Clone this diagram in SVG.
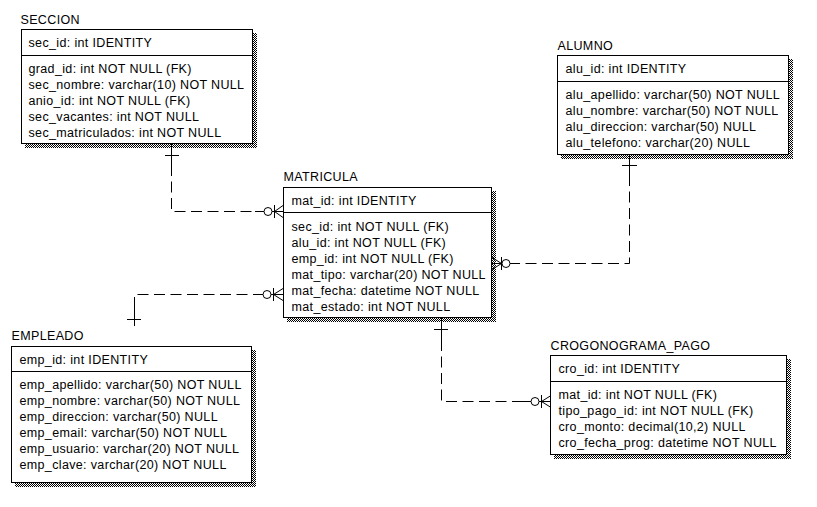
<svg xmlns="http://www.w3.org/2000/svg" width="817" height="507" viewBox="0 0 817 507">
<defs>
<pattern id="dither" width="2" height="2" patternUnits="userSpaceOnUse">
<rect width="2" height="2" fill="#fff"/>
<rect width="1" height="1" fill="#000"/>
<rect x="1" y="1" width="1" height="1" fill="#000"/>
</pattern>
<style>
text{font-family:"Liberation Sans",Arial,sans-serif;font-size:12.5px;letter-spacing:0.35px;fill:#000}
.box{fill:#fff;stroke:#000;stroke-width:1}
.sh{fill:url(#dither)}
.div{stroke:#000;stroke-width:1}
.dash{fill:none;stroke:#000;stroke-width:1;stroke-dasharray:11 5.5}
.sol{fill:none;stroke:#000;stroke-width:1}
.circ{fill:#fff;stroke:#000;stroke-width:1}
</style>
</defs>
<rect width="817" height="507" fill="#fff"/>

<g id="seccion">
<rect class="sh" x="25" y="33" width="232" height="115"/>
<rect class="box" x="21.5" y="29.5" width="231" height="114"/>
<line class="div" x1="21.5" y1="55.5" x2="252.5" y2="55.5"/>
<text x="20.5" y="23.5">SECCION</text>
<text x="28.5" y="46.5">sec_id: int IDENTITY</text>
<text x="28.5" y="72.5">grad_id: int NOT NULL (FK)</text>
<text x="28.5" y="88.5">sec_nombre: varchar(10) NOT NULL</text>
<text x="28.5" y="104.5">anio_id: int NOT NULL (FK)</text>
<text x="28.5" y="120.5">sec_vacantes: int NOT NULL</text>
<text x="28.5" y="136.5">sec_matriculados: int NOT NULL</text>
</g>

<g id="matricula">
<rect class="sh" x="287" y="191" width="209" height="131"/>
<rect class="box" x="283.5" y="187.5" width="208" height="130"/>
<line class="div" x1="283.5" y1="212.5" x2="491.5" y2="212.5"/>
<text x="283.5" y="181">MATRICULA</text>
<text x="291.5" y="204.5">mat_id: int IDENTITY</text>
<text x="291.5" y="230.5">sec_id: int NOT NULL (FK)</text>
<text x="291.5" y="246.5">alu_id: int NOT NULL (FK)</text>
<text x="291.5" y="262.5">emp_id: int NOT NULL (FK)</text>
<text x="291.5" y="278.5">mat_tipo: varchar(20) NOT NULL</text>
<text x="291.5" y="294.5">mat_fecha: datetime NOT NULL</text>
<text x="291.5" y="310.5">mat_estado: int NOT NULL</text>
</g>

<g id="alumno">
<rect class="sh" x="561" y="59" width="232" height="100"/>
<rect class="box" x="557.5" y="55.5" width="231" height="99"/>
<line class="div" x1="557.5" y1="81.5" x2="788.5" y2="81.5"/>
<text x="557.5" y="49.5">ALUMNO</text>
<text x="565.5" y="72.5">alu_id: int IDENTITY</text>
<text x="565.5" y="98.5">alu_apellido: varchar(50) NOT NULL</text>
<text x="565.5" y="114.5">alu_nombre: varchar(50) NOT NULL</text>
<text x="565.5" y="130.5">alu_direccion: varchar(50) NULL</text>
<text x="565.5" y="146.5">alu_telefono: varchar(20) NULL</text>
</g>

<g id="empleado">
<rect class="sh" x="15" y="350" width="241" height="137"/>
<rect class="box" x="11.5" y="346.5" width="240" height="136"/>
<line class="div" x1="11.5" y1="371.5" x2="251.5" y2="371.5"/>
<text x="11.5" y="340">EMPLEADO</text>
<text x="19.5" y="363.5">emp_id: int IDENTITY</text>
<text x="19.5" y="388.5">emp_apellido: varchar(50) NOT NULL</text>
<text x="19.5" y="404.5">emp_nombre: varchar(50) NOT NULL</text>
<text x="19.5" y="420.5">emp_direccion: varchar(50) NULL</text>
<text x="19.5" y="436.5">emp_email: varchar(50) NOT NULL</text>
<text x="19.5" y="452.5">emp_usuario: varchar(20) NOT NULL</text>
<text x="19.5" y="468.5">emp_clave: varchar(20) NOT NULL</text>
</g>

<g id="crogonograma_pago">
<rect class="sh" x="554" y="359" width="237" height="100"/>
<rect class="box" x="550.5" y="355.5" width="236" height="99"/>
<line class="div" x1="550.5" y1="381.5" x2="786.5" y2="381.5"/>
<text x="550.5" y="349.5">CROGONOGRAMA_PAGO</text>
<text x="558.5" y="372.5">cro_id: int IDENTITY</text>
<text x="558.5" y="398.5">mat_id: int NOT NULL (FK)</text>
<text x="558.5" y="414.5">tipo_pago_id: int NOT NULL (FK)</text>
<text x="558.5" y="430.5">cro_monto: decimal(10,2) NULL</text>
<text x="558.5" y="446.5">cro_fecha_prog: datetime NOT NULL</text>
</g>

<g id="connectors">
<!-- SECCION to MATRICULA -->
<polyline class="dash" points="171.5,165 171.5,211.5 264,211.5"/>
<polyline class="sol" points="171.5,144 171.5,165"/>
<line class="sol" x1="165" y1="155.5" x2="179" y2="155.5"/>
<line class="sol" x1="255" y1="211.5" x2="283" y2="211.5"/>
<circle class="circ" cx="268" cy="211.5" r="4"/>
<line class="sol" x1="274.5" y1="205" x2="274.5" y2="218"/>
<polyline class="sol" points="283,205.5 274.5,211.5 283,217.5"/>

<!-- EMPLEADO to MATRICULA -->
<polyline class="dash" points="134.5,308 134.5,294.5 256,294.5"/>
<polyline class="sol" points="134.5,326 134.5,308"/>
<line class="sol" x1="127" y1="319.5" x2="141" y2="319.5"/>
<line class="sol" x1="254" y1="294.5" x2="283" y2="294.5"/>
<circle class="circ" cx="267" cy="294.5" r="4"/>
<line class="sol" x1="273.5" y1="288" x2="273.5" y2="301"/>
<polyline class="sol" points="283,288.5 273.5,294.5 283,300.5"/>

<!-- ALUMNO to MATRICULA -->
<polyline class="dash" points="629.5,175 629.5,263.5 514,263.5"/>
<polyline class="sol" points="629.5,155 629.5,175"/>
<line class="sol" x1="622" y1="165.5" x2="637" y2="165.5"/>
<line class="sol" x1="492" y1="263.5" x2="518" y2="263.5"/>
<circle class="circ" cx="506" cy="263.5" r="4"/>
<line class="sol" x1="501.5" y1="257" x2="501.5" y2="270"/>
<polyline class="sol" points="492,257.5 501.5,263.5 492,269.5"/>

<!-- MATRICULA to CROGONOGRAMA_PAGO -->
<polyline class="dash" points="441.5,340 441.5,401.5 530,401.5"/>
<polyline class="sol" points="441.5,318 441.5,340"/>
<line class="sol" x1="434" y1="329.5" x2="448" y2="329.5"/>
<line class="sol" x1="522" y1="401.5" x2="551" y2="401.5"/>
<circle class="circ" cx="535" cy="401.5" r="4"/>
<line class="sol" x1="541.5" y1="395" x2="541.5" y2="408"/>
<polyline class="sol" points="551,395.5 541.5,401.5 551,407.5"/>
</g>
</svg>
